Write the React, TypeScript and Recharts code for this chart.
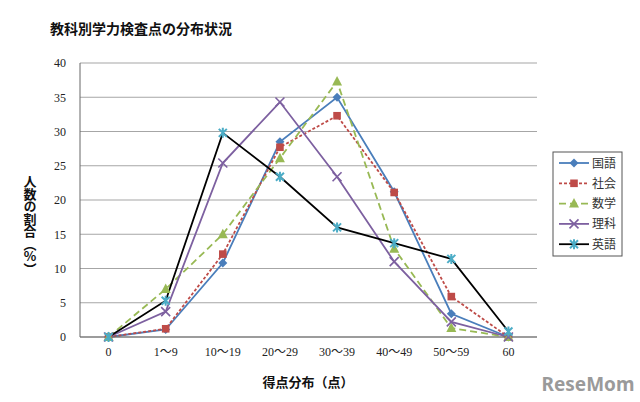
import React from "react";
import {
  LineChart,
  Line,
  XAxis,
  YAxis,
  CartesianGrid,
} from "recharts";

const categories = ["0", "1～9", "10～19", "20～29", "30～39", "40～49", "50～59", "60"];
const kokugo = [0, 1.1, 10.8, 28.5, 35.0, 21.2, 3.4, 0];
const shakai = [0, 1.2, 12.1, 27.7, 32.3, 21.1, 5.9, 0];
const sugaku = [0, 7.0, 15.0, 26.1, 37.3, 12.9, 1.3, 0];
const rika = [0, 3.7, 25.4, 34.3, 23.4, 11.0, 2.2, 0];
const eigo = [0, 5.3, 29.8, 23.4, 16.0, 13.7, 11.4, 0.8];
const yTicks = [0, 5, 10, 15, 20, 25, 30, 35, 40];

const data = categories.map((c, i) => ({
  name: c,
  kokugo: kokugo[i],
  shakai: shakai[i],
  sugaku: sugaku[i],
  rika: rika[i],
  eigo: eigo[i],
}));

const JP = '"Noto Sans CJK JP", sans-serif';
const SERIF = '"Liberation Serif", "Noto Sans CJK JP", serif';

type Shape = "diamond" | "square" | "triangle" | "x" | "star";

function markerPath(shape: Shape, cx: number, cy: number, color: string, key?: string) {
  if (shape === "diamond") {
    const r = 4.5;
    return <path key={key} d={`M${cx},${cy - r}L${cx + r},${cy}L${cx},${cy + r}L${cx - r},${cy}Z`} fill={color} />;
  }
  if (shape === "square") {
    const r = 3.8;
    return <rect key={key} x={cx - r} y={cy - r} width={r * 2} height={r * 2} fill={color} />;
  }
  if (shape === "triangle") {
    return <path key={key} d={`M${cx},${cy - 5.5}L${cx + 5},${cy + 4}L${cx - 5},${cy + 4}Z`} fill={color} />;
  }
  if (shape === "x") {
    const r = 4.5;
    return (
      <path key={key} d={`M${cx - r},${cy - r}L${cx + r},${cy + r}M${cx - r},${cy + r}L${cx + r},${cy - r}`} stroke={color} strokeWidth={1.6} fill="none" />
    );
  }
  const r = 4;
  return (
    <path
      key={key}
      d={`M${cx - r},${cy - r}L${cx + r},${cy + r}M${cx - r},${cy + r}L${cx + r},${cy - r}M${cx},${cy - r - 1}L${cx},${cy + r + 1}`}
      stroke={color}
      strokeWidth={2}
      fill="none"
    />
  );
}

const series = [
  { key: "kokugo", label: "国語", color: "#4a7ebb", marker: "#4a7ebb", shape: "diamond" as Shape, dash: undefined },
  { key: "shakai", label: "社会", color: "#be4b48", marker: "#be4b48", shape: "square" as Shape, dash: "3 2" },
  { key: "sugaku", label: "数学", color: "#98b954", marker: "#98b954", shape: "triangle" as Shape, dash: "7 4" },
  { key: "rika", label: "理科", color: "#7d60a0", marker: "#7d60a0", shape: "x" as Shape, dash: undefined },
  { key: "eigo", label: "英語", color: "#000000", marker: "#4bacc6", shape: "star" as Shape, dash: undefined },
];

// legend box drawn in the svg so it doesn't eat plot space
function LegendBox() {
  const x = 553;
  const y = 152;
  return (
    <g>
      <rect x={x} y={y} width={69} height={104} fill="#fff" stroke="#555" strokeWidth={1} />
      {series.map((s, i) => {
        const cy = y + 11 + i * 20.3;
        return (
          <g key={s.key}>
            <line x1={x + 6} y1={cy} x2={x + 36} y2={cy} stroke={s.color} strokeWidth={1.8} strokeDasharray={s.dash} />
            {markerPath(s.shape, x + 21, cy, s.marker)}
            <text x={x + 39} y={cy + 4.5} fontFamily={JP} fontSize={12} fill="#333">
              {s.label}
            </text>
          </g>
        );
      })}
    </g>
  );
}

function YLabel() {
  return (
    <text
      x={30}
      y={175}
      fill="#111"
      fontFamily={JP}
      fontSize={13}
      fontWeight="bold"
      letterSpacing={-0.5}
      style={{ writingMode: "vertical-rl", textOrientation: "upright" } as any}
    >
      人数の割合（%）
    </text>
  );
}

export default function App() {
  return (
    <div style={{ position: "absolute", left: 0, top: 0, width: 640, height: 402, background: "#fff" }}>
      <LineChart
        width={640}
        height={402}
        data={data}
        margin={{ top: 63, right: 103, left: 0, bottom: 35 }}
      >
        <text x={50} y={34} fontFamily={JP} fontSize={14} fontWeight="bold" fill="#111">
          教科別学力検査点の分布状況
        </text>
        <YLabel />
        <text x={308} y={387} textAnchor="middle" fontFamily={JP} fontSize={13} fontWeight="bold" fill="#111">
          得点分布（点）
        </text>
        <text x={588} y={391} textAnchor="middle" fontFamily='"Noto Sans", sans-serif' fontSize={19} fontWeight="bold" fill="#9a9a9a">
          ReseMom
        </text>
        <CartesianGrid vertical={false} stroke="#a6a6a6" strokeWidth={1.2} />
        <XAxis
          dataKey="name"
          scale="band"
          stroke="#666"
          tickLine={false}
          tickSize={6}
          tickMargin={4}
          height={30}
          tick={{ fill: "#222", fontSize: 12, fontFamily: SERIF }}
          interval={0}
        />
        <YAxis
          domain={[0, 40]}
          ticks={yTicks}
          width={80}
          stroke="#666"
          tickLine={false}
          tickSize={6}
          tickMargin={8}
          tick={{ fill: "#222", fontSize: 12, fontFamily: SERIF }}
          interval={0}
        />
        <LegendBox />
        {series.map((s) => (
          <Line
            key={s.key}
            dataKey={s.key}
            name={s.label}
            type="linear"
            stroke={s.color}
            strokeWidth={1.8}
            strokeDasharray={s.dash}
            isAnimationActive={false}
            dot={(p: any) => markerPath(s.shape, p.cx, p.cy, s.marker, `${s.key}-${p.index}`)}
            activeDot={false}
          />
        ))}
      </LineChart>
    </div>
  );
}
